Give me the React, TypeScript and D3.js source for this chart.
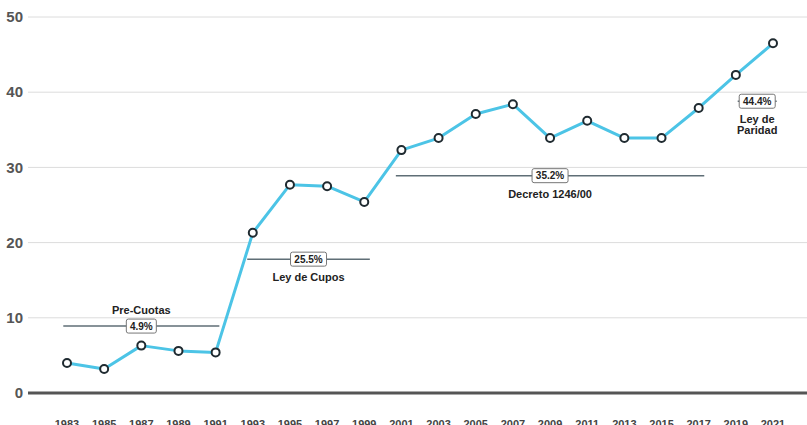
import React from 'react'
import * as d3 from 'd3'

const years = [1983, 1985, 1987, 1989, 1991, 1993, 1995, 1997, 1999, 2001, 2003, 2005, 2007, 2009, 2011, 2013, 2015, 2017, 2019, 2021]
const shares = [4.0, 3.2, 6.3, 5.6, 5.4, 21.3, 27.7, 27.5, 25.4, 32.3, 33.9, 37.1, 38.4, 33.9, 36.2, 33.9, 33.9, 37.9, 42.3, 46.5]

const periodNames = [['Pre-Cuotas'], ['Ley de Cupos'], ['Decreto 1246/00'], ['Ley de', 'Paridad']]
const periodAvg = ['4.9%', '25.5%', '35.2%', '44.4%']
const periodFrom = [1982.8, 1992.7, 2000.7, 2019.1]
const periodTo = [1991.2, 1999.3, 2017.3, 2021.2]
const periodLevel = [8.9, 17.8, 28.9, 38.8]
const labelAbove = [true, false, false, false]

const yTicks = [0, 10, 20, 30, 40, 50]

const W = 807
const H = 425
const font = '"Liberation Sans", Arial, sans-serif'

export default function App() {
  const x = d3.scaleLinear().domain([1983, 2021]).range([67, 773])
  const y = d3.scaleLinear().domain([0, 50]).range([393, 17])

  const line = d3
    .line<number>()
    .x((d, i) => x(years[i]))
    .y(d => y(d))

  return (
    <svg width={W} height={H} style={{position: 'absolute', left: 0, top: 0, background: '#fff'}} fontFamily={font}>
      {/* grid + y labels */}
      {yTicks.map(t => (
        <g key={t}>
          {t > 0 && <line x1={28} x2={W} y1={y(t)} y2={y(t)} stroke="#dcdcdc" strokeWidth={1} />}
          <text x={23} y={y(t)} dy="0.35em" textAnchor="end" fontSize={15} fontWeight="bold" fill="#555">
            {t}
          </text>
        </g>
      ))}
      <line x1={28} x2={W} y1={y(0)} y2={y(0)} stroke="#555" strokeWidth={3} />

      {/* x labels */}
      {years.map(yr => (
        <text key={yr} x={x(yr)} y={428} textAnchor="middle" fontSize={11} fontWeight="bold" fill="#444">
          {yr}
        </text>
      ))}

      {/* period averages */}
      {periodNames.map((name, i) => {
        const x1 = x(periodFrom[i])
        const x2 = x(periodTo[i])
        const cx = (x1 + x2) / 2
        const cy = y(periodLevel[i])
        const bw = periodAvg[i].length * 6 + 6
        return (
          <g key={i}>
            <line x1={x1} x2={x2} y1={cy} y2={cy} stroke="#5f6e76" strokeWidth={1.5} />
            <rect x={cx - bw / 2} y={cy - 7} width={bw} height={14} rx={2} fill="#fff" stroke="#777" strokeWidth={1} />
            <text x={cx} y={cy} dy="0.36em" textAnchor="middle" fontSize={10} fontWeight="bold" fill="#222">
              {periodAvg[i]}
            </text>
            {name.map((s, j) => (
              <text
                key={j}
                x={cx}
                y={labelAbove[i] ? cy - 12 : cy + 22 + j * 11}
                textAnchor="middle"
                fontSize={11}
                fontWeight="bold"
                fill="#222"
              >
                {s}
              </text>
            ))}
          </g>
        )
      })}

      {/* series */}
      <path d={line(shares) || ''} fill="none" stroke="#4cc4e6" strokeWidth={3} strokeLinejoin="round" />
      {shares.map((v, i) => (
        <circle key={i} cx={x(years[i])} cy={y(v)} r={4} fill="#fff" stroke="#1f2a30" strokeWidth={2} />
      ))}
    </svg>
  )
}
